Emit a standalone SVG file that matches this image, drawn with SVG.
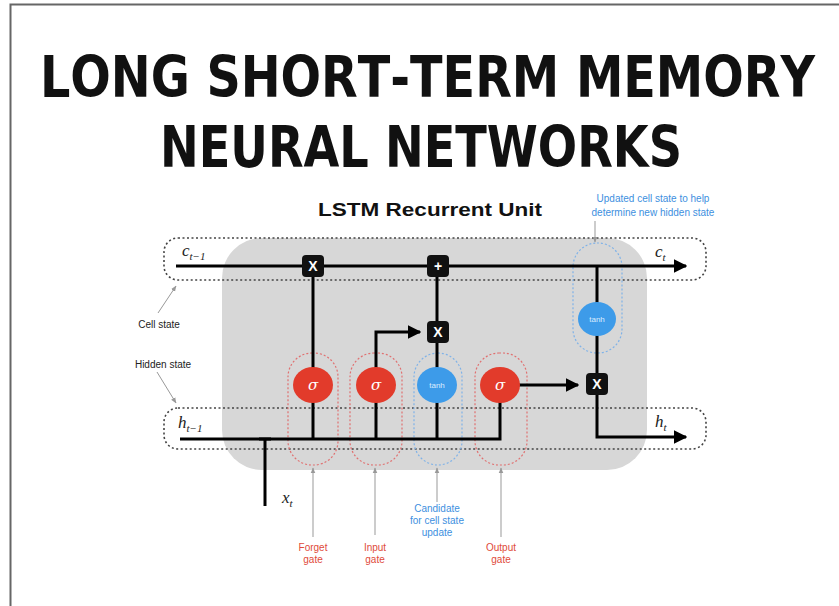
<svg xmlns="http://www.w3.org/2000/svg" width="839" height="606" viewBox="0 0 839 606">
<defs>
<style>
.t{font-family:"Liberation Sans Narrow","DejaVu Sans Condensed","Liberation Sans",sans-serif;font-weight:bold;font-size:57px;fill:#111;font-kerning:none}
.lane{fill:none;stroke:#444;stroke-width:1.6;stroke-dasharray:2 2.5}
.red{fill:none;stroke:#e07070;stroke-width:1.2;stroke-dasharray:2 2}
.blue{fill:none;stroke:#7fb2e8;stroke-width:1.2;stroke-dasharray:2 2}
.w{fill:none;stroke:#000;stroke-width:3}
.ann{fill:none;stroke:#999;stroke-width:1}
.lbl{font-family:"Liberation Sans",Arial,sans-serif;font-size:10px;text-anchor:middle}
.var{font-family:"Liberation Serif","Times New Roman",serif;font-style:italic;font-size:17px;fill:#222}
.sub{font-size:11px}
.op{font-family:"Liberation Sans",Arial,sans-serif;font-weight:bold;font-size:14px;fill:#fff;text-anchor:middle}
.g{font-family:"DejaVu Serif","Liberation Serif",serif;font-style:italic;font-size:15px;fill:#fff;text-anchor:middle}
.th{font-family:"Liberation Sans",Arial,sans-serif;font-size:8px;fill:#dcecff;text-anchor:middle}
</style>
<marker id="ah" viewBox="0 0 10 10" refX="9" refY="5" markerWidth="4.5" markerHeight="4.5" orient="auto" markerUnits="strokeWidth"><path d="M0,0L10,5L0,10z" fill="#000"/></marker>
<marker id="ag" viewBox="0 0 10 10" refX="9" refY="5" markerWidth="6" markerHeight="6" orient="auto" markerUnits="strokeWidth"><path d="M0,1L10,5L0,9z" fill="#999"/></marker>
</defs>
<rect width="839" height="606" fill="#fff"/>
<path d="M10.5,606V4.5H839" fill="none" stroke="#666" stroke-width="2"/>
<g id="title">
<text class="t" x="40" y="97" textLength="775" lengthAdjust="spacingAndGlyphs">LONG SHORT-TERM MEMORY</text>
<text class="t" x="160" y="167" textLength="522" lengthAdjust="spacingAndGlyphs">NEURAL NETWORKS</text>
</g>
<g id="unit">
<rect x="222" y="238" width="425" height="232" rx="40" fill="#d7d7d7"/>
<text x="318" y="216" textLength="224" lengthAdjust="spacingAndGlyphs" style="font-family:'Liberation Sans',Arial,sans-serif;font-weight:bold;font-size:18px;fill:#111">LSTM Recurrent Unit</text>
</g>
<g id="lanes">
<rect class="lane" x="164" y="238" width="542" height="42" rx="14"/>
<rect class="lane" x="164" y="408" width="542" height="41" rx="14"/>
</g>
<g id="gate-boxes">
<rect class="red" x="288" y="353" width="50" height="112" rx="24"/>
<rect class="red" x="350" y="353" width="52" height="112" rx="24"/>
<rect class="blue" x="414" y="353" width="48" height="112" rx="24"/>
<rect class="red" x="475" y="353" width="52" height="112" rx="24"/>
<rect class="blue" x="573" y="243" width="49" height="110" rx="24"/>
</g>
<g id="connectors">
<path class="w" d="M176,266H686" marker-end="url(#ah)"/>
<path class="w" d="M180,439H500V385"/>
<path class="w" d="M313,439V266"/>
<path class="w" d="M376,439V332H420" marker-end="url(#ah)"/>
<path class="w" d="M437,439V266"/>
<path class="w" d="M597,266V437H686" marker-end="url(#ah)"/>
<path class="w" d="M500,385H578" marker-end="url(#ah)"/>
<path class="w" d="M265,439V506"/>
<path d="M259,439H271" stroke="#000" stroke-width="3"/>
</g>
<g id="annotations">
<path class="ann" d="M158,313L176,286" marker-end="url(#ag)"/>
<path class="ann" d="M157,372L176,403" marker-end="url(#ag)"/>
<path class="ann" d="M313,537V468" marker-end="url(#ag)"/>
<path class="ann" d="M375,535V468" marker-end="url(#ag)"/>
<path class="ann" d="M437,502V468" marker-end="url(#ag)"/>
<path class="ann" d="M501,537V468" marker-end="url(#ag)"/>
<path class="ann" d="M595,221V242" marker-end="url(#ag)"/>
</g>
<g id="forget-gate">
<ellipse cx="313" cy="385" rx="20" ry="18" fill="#e23b2b"/>
<text class="g" x="313" y="390">σ</text>
<rect x="302" y="255" width="22" height="22" rx="4" fill="#111"/>
<text class="op" x="313" y="271">X</text>
</g>
<g id="input-gate">
<ellipse cx="376" cy="385" rx="20" ry="18" fill="#e23b2b"/>
<text class="g" x="376" y="390">σ</text>
</g>
<g id="candidate">
<ellipse cx="437" cy="385" rx="20" ry="18" fill="#3d9be9"/>
<text class="th" x="437" y="388">tanh</text>
<rect x="427" y="321" width="22" height="22" rx="4" fill="#111"/>
<text class="op" x="438" y="337">X</text>
<rect x="427" y="255" width="22" height="22" rx="4" fill="#111"/>
<text class="op" x="438" y="271">+</text>
</g>
<g id="output-gate">
<ellipse cx="500" cy="385" rx="20" ry="18" fill="#e23b2b"/>
<text class="g" x="500" y="390">σ</text>
</g>
<g id="cell-tanh">
<ellipse cx="597" cy="319" rx="19" ry="17" fill="#3d9be9"/>
<text class="th" x="597" y="322">tanh</text>
<rect x="586" y="373" width="22" height="22" rx="4" fill="#111"/>
<text class="op" x="597" y="389">X</text>
</g>
<g id="variables">
<text class="var" x="182" y="256">c<tspan class="sub" dy="4">t−1</tspan></text>
<text class="var" x="655" y="257">c<tspan class="sub" dy="4">t</tspan></text>
<text class="var" x="178" y="428">h<tspan class="sub" dy="4">t−1</tspan></text>
<text class="var" x="655" y="427">h<tspan class="sub" dy="4">t</tspan></text>
<text class="var" x="282" y="503">x<tspan class="sub" dy="4">t</tspan></text>
</g>
<g id="labels">
<text class="lbl" x="159" y="328" fill="#222">Cell state</text>
<text class="lbl" x="163" y="368" fill="#222">Hidden state</text>
<text class="lbl" x="313" y="551" fill="#e04a3a">Forget</text>
<text class="lbl" x="313" y="563" fill="#e04a3a">gate</text>
<text class="lbl" x="375" y="551" fill="#e04a3a">Input</text>
<text class="lbl" x="375" y="563" fill="#e04a3a">gate</text>
<text class="lbl" x="501" y="551" fill="#e04a3a">Output</text>
<text class="lbl" x="501" y="563" fill="#e04a3a">gate</text>
<text class="lbl" x="437" y="512" fill="#3d8fe0">Candidate</text>
<text class="lbl" x="437" y="524" fill="#3d8fe0">for cell state</text>
<text class="lbl" x="437" y="536" fill="#3d8fe0">update</text>
<text class="lbl" x="653" y="202" fill="#3d8fe0">Updated cell state to help</text>
<text class="lbl" x="653" y="216" fill="#3d8fe0">determine new hidden state</text>
</g>
</svg>
